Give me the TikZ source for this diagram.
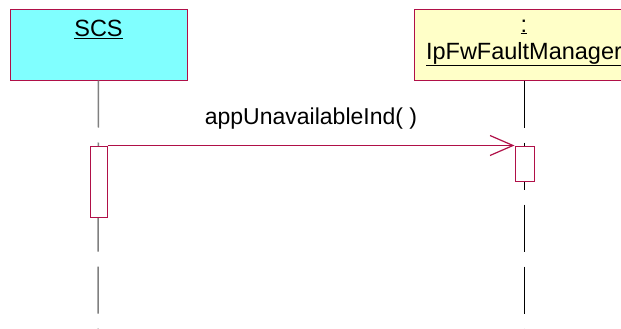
\documentclass[tikz,border=0pt]{standalone}
\usepackage{fontspec}
\setmainfont{Liberation Sans}
\usepackage{tikz}
\usetikzlibrary{arrows.meta}
\definecolor{umlred}{RGB}{176,16,72}
\definecolor{scscyan}{RGB}{128,255,255}
\definecolor{mgryellow}{RGB}{255,255,200}
\tikzset{>={Straight Barb[length=23pt,width=20pt,line width=1.2pt]}}

\begin{document}
\begin{tikzpicture}[x=1pt,y=-1pt,
    objbox/.style={draw=umlred, line width=1pt, minimum height=70pt, inner sep=0},
    objname/.style={font=\fontsize{23.5}{27}\selectfont, align=center, inner sep=0, anchor=north},
    actbox/.style={draw=umlred, fill=white, line width=1pt, inner sep=0},
    msg/.style={->, draw=umlred, line width=1pt}]
  \useasboundingbox (0,0) rectangle (621,329);
  % Draw object boxes with names
  \node[objbox, fill=scscyan, minimum width=177pt] (scs) at (98.5,45) {};
  \node[objname] (scsname) at ([yshift=-10pt]scs.north) {\underline{SCS}};
  \node[objbox, fill=mgryellow, minimum width=220pt] (mgr) at (524,45) {};
  \node[objname] (mgrname) at ([yshift=-10pt]mgr.north) {\underline{:}\\\underline{IpFwFaultManager}};
  % Draw lifelines
  \coordinate (scsend) at (98,329);
  \coordinate (mgrend) at (524,329);
  \draw[gray, line width=1.5pt, dash pattern=on 47pt off 15pt] (scs.south) -- (scsend);
  \draw[black, line width=1pt, dash pattern=on 47pt off 15pt] (mgr.south) -- (mgrend);
  % Draw activations and the message
  \node[actbox, minimum width=17pt, minimum height=71pt] (act1) at (98.5,181.5) {};
  \node[actbox, minimum width=19pt, minimum height=35pt] (act2) at (524.5,163.5) {};
  \draw[msg] (act1.north east) -- (act2.north west)
    node[midway, above=16pt, inner sep=0, text=black, font=\fontsize{23}{27}\selectfont] (msglabel) {appUnavailableInd( )};
\end{tikzpicture}
\end{document}
